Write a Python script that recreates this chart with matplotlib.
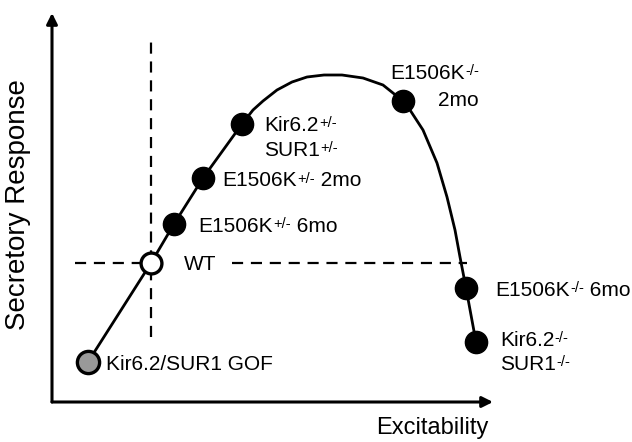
import matplotlib.pyplot as plt

plt.rcParams['font.family'] = ['Liberation Sans', 'DejaVu Sans']

# schematic units: excitability (x) vs secretory response (y)
curve_x = [36, 99, 122, 151, 190, 201, 211, 225, 240, 255, 272, 290,
           311, 331, 351, 358, 371, 385, 395, 403, 408, 414, 424]
curve_y = [40, 139, 178, 224, 278, 292, 301, 312, 320, 325, 327, 327,
           324, 317, 301, 292, 272, 239, 205, 172, 145, 114, 60]

# black points (genotypes)
pts_x = [122, 151, 190, 351, 414, 424]
pts_y = [178, 224, 278, 301, 114, 60]

wt = (99, 139)
gof = (36, 40)

FS = 15
SUP = 10.5


def label(ax, x, y, parts):
    '''
    Writes a label made of pieces, some of them as superscripts,
    one after the other starting at (x, y) in data coordinates
    '''
    first = ax.text(x, y, parts[0][0], fontsize=FS, va='center', clip_on=False)
    prev = first
    for s, sup in parts[1:]:
        if sup:
            prev = ax.annotate(s, xy=(1, 1), xycoords=(prev, first),
                               xytext=(0.3, -0.3), textcoords='offset points',
                               fontsize=SUP, va='top', ha='left')
        else:
            prev = ax.annotate(s, xy=(1, 0.5), xycoords=(prev, first),
                               fontsize=FS, va='center', ha='left')
    return first


fig = plt.figure(figsize=(6.32, 4.42), dpi=100)
ax = fig.add_axes([52 / 632, 40 / 442, 441 / 632, 389 / 442])
ax.set_xlim(0, 441)
ax.set_ylim(0, 389)
ax.axis('off')

# axes drawn as arrows
arr = dict(arrowstyle='-|>', lw=2.2, color='black', mutation_scale=16,
           shrinkA=0, shrinkB=0)
ax.annotate('', xy=(0, 1), xytext=(0, 0), xycoords='axes fraction', arrowprops=arr)
ax.annotate('', xy=(1, 0), xytext=(0, 0), xycoords='axes fraction', arrowprops=arr)

# WT reference lines
dash = dict(color='black', lw=1.6, dashes=(5, 3.5), zorder=1)
ax.plot([wt[0], wt[0]], [65, 360], **dash)
ax.plot([23, 116], [wt[1], wt[1]], **dash)
ax.plot([180, 415], [wt[1], wt[1]], **dash)

ax.plot(curve_x, curve_y, color='black', lw=2, zorder=2, solid_capstyle='round')
ax.plot(pts_x, pts_y, 'o', color='black', ms=16, zorder=3)
ax.plot(*wt, 'o', mfc='white', mec='black', mew=2.4, ms=15, zorder=3)
ax.plot(*gof, 'o', mfc='#999999', mec='black', mew=2.4, ms=16, zorder=3)

label(ax, 54, 37, [('Kir6.2/SUR1 GOF', False)])
label(ax, 132, 138, [('WT', False)])
label(ax, 146, 176, [('E1506K', False), ('+/-', True), (' 6mo', False)])
label(ax, 170, 221, [('E1506K', False), ('+/-', True), (' 2mo', False)])
label(ax, 212, 277, [('Kir6.2', False), ('+/-', True)])
label(ax, 212, 252, [('SUR1', False), ('+/-', True)])
label(ax, 338, 329, [('E1506K', False), ('-/-', True)])
label(ax, 386, 302, [('2mo', False)])
label(ax, 443, 112, [('E1506K', False), ('-/-', True), (' 6mo', False)])
label(ax, 448, 62, [('Kir6.2', False), ('-/-', True)])
label(ax, 448, 38, [('SUR1', False), ('-/-', True)])

fig.text(488 / 632, 1 - 428 / 442, 'Excitability', fontsize=17, ha='right', va='center')
fig.text(18 / 632, 1 - 205 / 442, 'Secretory Response', fontsize=20, rotation=90,
         ha='center', va='center')

fig.savefig('out.png', dpi=100)
